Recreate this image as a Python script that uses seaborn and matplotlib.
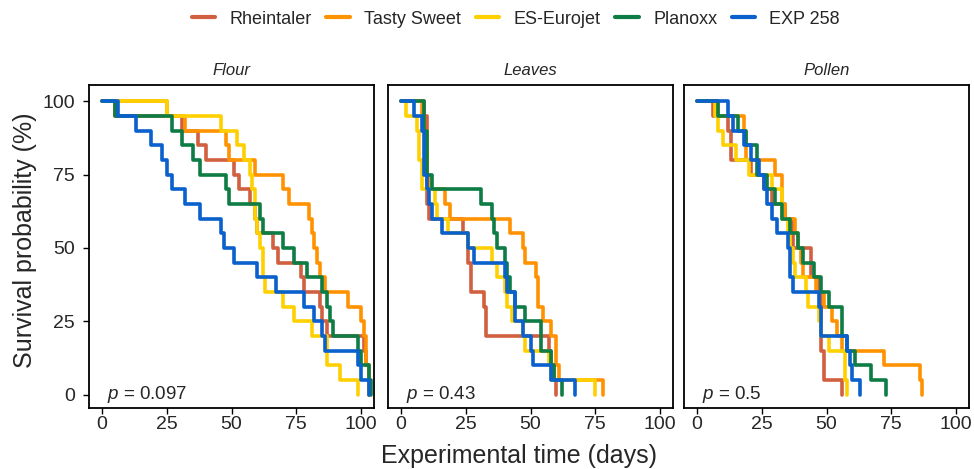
import pandas as pd
import seaborn as sns
import matplotlib.pyplot as plt
from matplotlib.lines import Line2D

cultivars = ["Rheintaler", "Tasty Sweet", "ES-Eurojet", "Planoxx", "EXP 258"]
colors = ["#D0603F", "#FF9200", "#FFD000", "#0E7C45", "#0A60CC"]
panels = ["Flour", "Leaves", "Pollen"]
p_values = ["0.097", "0.43", "0.5"]

# day of death of each of the 20 insects per group (no censoring)
flour_rheintaler = [5, 31, 37, 40, 51, 53, 57, 59, 60, 66, 68, 77, 78, 84, 85, 87, 101, 102, 103, 103]
flour_tasty = [25, 32, 48, 49, 59, 70, 72, 80, 81, 82, 83, 84, 86, 95, 100, 101, 102, 102, 103, 103]
flour_eurojet = [25, 46, 52, 55, 57, 58, 59, 59, 60, 61, 62, 62, 63, 70, 74, 81, 87, 87, 92, 99]
flour_planoxx = [5, 27, 31, 35, 38, 48, 49, 61, 62, 70, 74, 79, 85, 87, 88, 89, 99, 100, 103, 104]
flour_exp258 = [6, 13, 19, 23, 25, 27, 32, 38, 46, 47, 51, 60, 67, 78, 82, 85, 86, 99, 100, 103]

leaves_rheintaler = [9, 10, 10, 10, 10, 10, 10, 11, 24, 26, 26, 27, 27, 32, 33, 33, 57, 58, 59, 60]
leaves_tasty = [8, 9, 10, 10, 10, 11, 17, 19, 42, 47, 48, 52, 53, 53, 55, 58, 60, 60, 61, 78]
leaves_eurojet = [2, 6, 7, 7, 8, 8, 13, 14, 18, 26, 35, 37, 40, 41, 43, 47, 48, 57, 58, 75]
leaves_planoxx = [9, 9, 10, 10, 10, 12, 31, 35, 36, 37, 40, 41, 42, 44, 48, 54, 54, 58, 59, 62]
leaves_exp258 = [5, 8, 9, 9, 9, 10, 11, 12, 16, 26, 28, 40, 41, 44, 44, 47, 50, 51, 58, 67]

pollen_rheintaler = [6, 12, 13, 13, 21, 26, 29, 34, 37, 37, 44, 44, 47, 48, 48, 48, 48, 49, 49, 56]
pollen_tasty = [8, 18, 19, 19, 30, 33, 33, 34, 38, 39, 40, 41, 46, 49, 52, 54, 56, 72, 86, 87]
pollen_eurojet = [7, 8, 10, 15, 20, 29, 33, 33, 35, 36, 37, 38, 42, 43, 47, 48, 51, 57, 57, 58]
pollen_planoxx = [8, 16, 19, 23, 23, 27, 30, 33, 36, 39, 41, 45, 48, 51, 56, 56, 58, 61, 67, 73]
pollen_exp258 = [12, 14, 18, 21, 24, 26, 27, 29, 31, 35, 36, 36, 37, 47, 48, 48, 58, 59, 60, 63]

death_times = {
    "Flour": [flour_rheintaler, flour_tasty, flour_eurojet, flour_planoxx, flour_exp258],
    "Leaves": [leaves_rheintaler, leaves_tasty, leaves_eurojet, leaves_planoxx, leaves_exp258],
    "Pollen": [pollen_rheintaler, pollen_tasty, pollen_eurojet, pollen_planoxx, pollen_exp258],
}

# Kaplan-Meier curve (all events, no censoring)
rows = []
for panel in panels:
    for name, times in zip(cultivars, death_times[panel]):
        n = len(times)
        rows.append((panel, name, 0, 100.0))
        for k, day in enumerate(sorted(times), start=1):
            rows.append((panel, name, day, 100 * (1 - k / n)))
df = pd.DataFrame(rows, columns=["panel", "cultivar", "time", "surv"])

sns.set_style("white")
plt.rcParams["font.family"] = ["Liberation Sans", "DejaVu Sans"]
plt.rcParams["mathtext.fontset"] = "custom"
plt.rcParams["mathtext.it"] = "Liberation Sans:italic"
plt.rcParams["mathtext.rm"] = "Liberation Sans"

W, H = 974, 469
fig = plt.figure(figsize=(W / 100, H / 100), dpi=100)
lefts = [89, 388, 684]

for i, panel in enumerate(panels):
    ax = fig.add_axes([lefts[i] / W, 61 / H, 285 / W, 323 / H])
    sns.lineplot(data=df[df.panel == panel], x="time", y="surv", hue="cultivar",
                 hue_order=cultivars, palette=colors, estimator=None, sort=False,
                 drawstyle="steps-post", linewidth=2.6, legend=False, ax=ax)
    ax.set_xlim(-5, 105)
    ax.set_ylim(-4.5, 105.5)
    ax.set_xticks([0, 25, 50, 75, 100])
    ax.set_yticks([0, 25, 50, 75, 100])
    ax.set_xlabel("")
    ax.set_ylabel("")
    for s in ax.spines.values():
        s.set_color("black")
        s.set_linewidth(1.3)
    ax.tick_params(axis="x", bottom=True, direction="out", length=4, width=1,
                   color="black", labelsize=14, pad=2)
    if i == 0:
        ax.tick_params(axis="y", left=True, direction="out", length=4, width=1,
                       color="black", labelsize=14, pad=6)
    else:
        ax.tick_params(axis="y", left=False, labelleft=False)
    ax.set_title(panel, style="italic", fontsize=12, pad=7)
    ax.text(2, 0, "$p$ = " + p_values[i], fontsize=13.5, va="center", ha="left")

fig.text(519 / W, 1 - 456 / H, "Experimental time (days)", fontsize=18,
         ha="center", va="center")
fig.text(25 / W, 1 - 240 / H, "Survival probability (%)", fontsize=18,
         ha="center", va="center", rotation=90)

handles = [Line2D([], [], color=c, linewidth=3) for c in colors]
fig.legend(handles, cultivars, loc="center", bbox_to_anchor=(516 / W, 1 - 19 / H),
           ncol=5, frameon=False, fontsize=13, handlelength=1.3,
           handletextpad=0.8, columnspacing=0.8)

fig.savefig("out.png", dpi=100)
